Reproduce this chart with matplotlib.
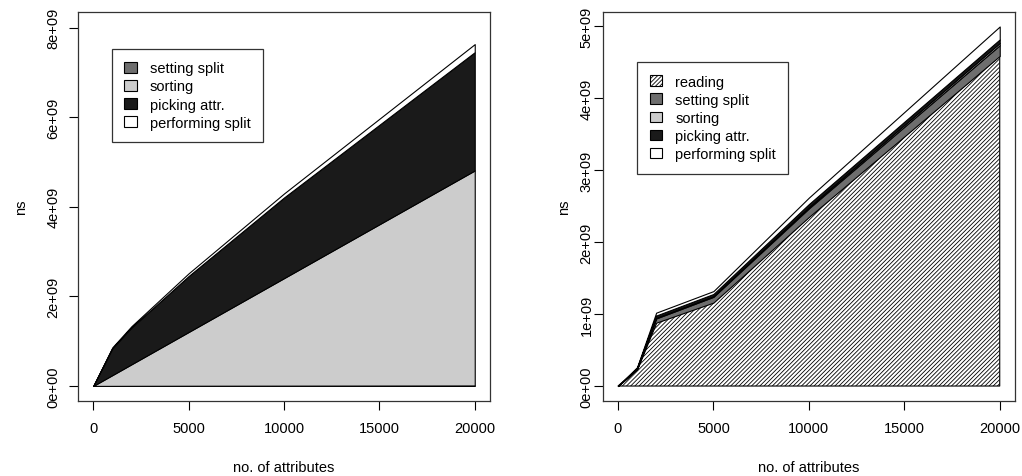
import numpy as np
import matplotlib
matplotlib.use("Agg")
import matplotlib.pyplot as plt
from matplotlib.patches import Patch

plt.rcParams['font.family'] = ['Liberation Sans', 'DejaVu Sans']
plt.rcParams['font.size'] = 10.5
plt.rcParams['hatch.linewidth'] = 0.6

# number of attributes (x)
n_attr = [0, 1000, 2000, 5000, 10000, 20000]

# left panel, ns (stacked bottom-up in legend order)
left_labels = ["setting split", "sorting", "picking attr.", "performing split"]
left_setting = [0, 0.001e9, 0.002e9, 0.004e9, 0.006e9, 0.01e9]
left_sorting = [0, 0.24e9, 0.48e9, 1.2e9, 2.4e9, 4.8e9]
left_picking = [0, 0.6e9, 0.82e9, 1.25e9, 1.8e9, 2.64e9]
left_performing = [0, 0.02e9, 0.03e9, 0.06e9, 0.09e9, 0.18e9]

# right panel, ns
right_labels = ["reading", "setting split", "sorting", "picking attr.", "performing split"]
right_reading = [0, 0.23e9, 0.88e9, 1.16e9, 2.35e9, 4.59e9]
right_setting = [0, 0.01e9, 0.06e9, 0.08e9, 0.12e9, 0.15e9]
right_sorting = [0, 0.003e9, 0.01e9, 0.01e9, 0.02e9, 0.03e9]
right_picking = [0, 0.01e9, 0.03e9, 0.03e9, 0.04e9, 0.05e9]
right_performing = [0, 0.01e9, 0.04e9, 0.04e9, 0.09e9, 0.18e9]

left_yticks = [0, 2e9, 4e9, 6e9, 8e9]
right_yticks = [0, 1e9, 2e9, 3e9, 4e9, 5e9]
xticks = [0, 5000, 10000, 15000, 20000]

fig = plt.figure(figsize=(10.22, 4.77), dpi=100)
W, H = 1022.0, 477.0

def make_ax(x0, x1, y0, y1):
    return fig.add_axes([x0 / W, 1 - y1 / H, (x1 - x0) / W, (y1 - y0) / H])

def stack(ax, x, layers, styles):
    base = np.zeros(len(x))
    for vals, st in zip(layers, styles):
        top = base + np.asarray(vals)
        ax.fill_between(x, base, top, facecolor=st['fc'], edgecolor='black',
                        linewidth=0.8, hatch=st.get('hatch'))
        base = top

def fmt_sci(v):
    if v == 0:
        return "0e+00"
    e = int(np.floor(np.log10(v)))
    return f"{v / 10**e:.0f}e+{e:02d}"

def style_ax(ax, ylim, yticks, ypad, ylabpad):
    ax.set_xlim(-800, 20800)
    ax.set_ylim(*ylim)
    ax.set_xticks(xticks)
    ax.set_xticklabels([str(t) for t in xticks])
    ax.set_yticks(yticks)
    ax.set_yticklabels([fmt_sci(t) for t in yticks], rotation=90, va='center')
    ax.tick_params(direction='out', length=6.5, width=0.8, labelsize=10.5)
    ax.tick_params(axis='x', pad=8)
    ax.tick_params(axis='y', pad=ypad)
    for s in ax.spines.values():
        s.set_linewidth(0.9)
        s.set_color('#333333')
    ax.set_xlabel("no. of attributes", labelpad=18)
    ax.set_ylabel("ns", labelpad=ylabpad)

def add_legend(ax, handles, labels, anchor):
    leg = ax.legend(handles, labels, loc='upper left', bbox_to_anchor=anchor,
                    borderaxespad=0, fancybox=False, edgecolor='#333333', framealpha=1,
                    handlelength=0.85, handleheight=0.75, handletextpad=0.9,
                    labelspacing=0.28, borderpad=0.85, fontsize=10.5)
    leg.get_frame().set_linewidth(0.9)

# colours
c_setting = '#6e6e6e'
c_sorting = '#cccccc'
c_picking = '#1a1a1a'
c_perf = 'white'

# left panel
ax1 = make_ax(78, 490, 13.3, 401.7)
stack(ax1, n_attr, [left_setting, left_sorting, left_picking, left_performing],
      [{'fc': c_setting}, {'fc': c_sorting}, {'fc': c_picking}, {'fc': c_perf}])
style_ax(ax1, (-0.33e9, 8.34e9), left_yticks, 6, 13.5)
h1 = [Patch(facecolor=c, edgecolor='black', linewidth=0.8)
      for c in [c_setting, c_sorting, c_picking, c_perf]]
add_legend(ax1, h1, left_labels, (0.0825, 0.9055))

# right panel
ax2 = make_ax(602.7, 1015, 13.3, 401.7)
stack(ax2, n_attr, [right_reading, right_setting, right_sorting, right_picking, right_performing],
      [{'fc': 'white', 'hatch': '////////'}, {'fc': c_setting}, {'fc': c_sorting},
       {'fc': c_picking}, {'fc': c_perf}])
style_ax(ax2, (-0.204e9, 5.197e9), right_yticks, 0, 6)
h2 = [Patch(facecolor='white', edgecolor='black', linewidth=0.8, hatch='////////')] + \
     [Patch(facecolor=c, edgecolor='black', linewidth=0.8)
      for c in [c_setting, c_sorting, c_picking, c_perf]]
add_legend(ax2, h2, right_labels, (0.084, 0.871))

fig.savefig("out.png", dpi=100)
